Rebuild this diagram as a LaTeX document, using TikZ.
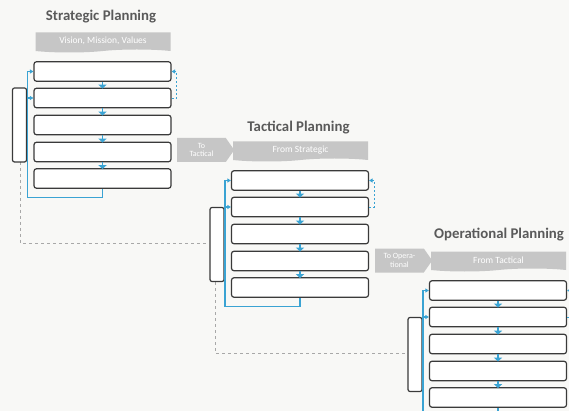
\documentclass[tikz,border=0pt]{standalone}
\usepackage{fontspec}
\setmainfont{Carlito}
\usetikzlibrary{shapes.symbols,arrows.meta}
\definecolor{bg}{HTML}{F8F8F6}
\definecolor{titlegray}{HTML}{5A5A5A}
\definecolor{boxline}{HTML}{3A3A3A}
\definecolor{bannergray}{HTML}{C6C6C6}
\definecolor{loopblue}{HTML}{3AA3D3}
\definecolor{dashgray}{HTML}{A8A8A8}
\tikzset{
  titletext/.style={font=\bfseries\fontsize{14.8}{16}\selectfont, text=titlegray, inner sep=0pt},
  bannerbox/.style={shape=tape, tape bend top=none, tape bend bottom=in and out, tape bend height=3pt,
    fill=bannergray, draw=none, minimum width=135pt, minimum height=20pt, inner sep=0pt,
    font=\fontsize{9.5}{10}\selectfont, text=white},
  planbox/.style={draw=boxline, line width=1.2pt, fill=white, rounded corners=2.5pt,
    minimum width=137pt, minimum height=19.5pt, inner sep=0pt},
  bracketbox/.style={draw=boxline, line width=1.2pt, fill=white, rounded corners=2pt,
    minimum width=14pt, minimum height=74pt, inner sep=0pt},
  toarrow/.style={shape=signal, signal to=east, signal pointer angle=110, fill=bannergray, draw=none,
    minimum width=57pt, minimum height=24pt, inner sep=1pt, align=center,
    font=\fontsize{8}{8.5}\selectfont, text=white},
  boxarrow/.style={draw=loopblue, line width=1.8pt, -{Triangle[width=8pt,length=4pt]}, shorten >=-1pt},
  blueline/.style={draw=loopblue, line width=1.1pt, -{Triangle[width=4pt,length=3.5pt]}},
  bluedash/.style={draw=loopblue, line width=0.9pt, dash pattern=on 2pt off 2pt, -{Triangle[width=4pt,length=3.5pt]}},
  greydash/.style={draw=dashgray, line width=0.8pt, dash pattern=on 3pt off 3pt},
}
\newcommand\PlanPanel[5]{%
  \begin{scope}[shift={(#2,#3)}]
    \node[bannerbox] (#1banner) at (0.5,-30.5) {#4};
    \node[planbox] (#1b1) at (0,0) {};
    \node[planbox] (#1b2) at (0,26.5) {};
    \node[planbox] (#1b3) at (0,53.5) {};
    \node[planbox] (#1b4) at (0,80.5) {};
    \node[planbox] (#1b5) at (0,107) {};
    \node[bracketbox] (#1br) at (-83,#5) {};
    \draw[boxarrow] (#1b1.south) -- (#1b2.north);
    \draw[boxarrow] (#1b2.south) -- (#1b3.north);
    \draw[boxarrow] (#1b3.south) -- (#1b4.north);
    \draw[boxarrow] (#1b4.south) -- (#1b5.north);
    \draw[blueline] (#1b5.south) |- (-75,126) |- (#1b1.west);
    \draw[blueline] (-75,26.5) -- (#1b2.west);
    \draw[bluedash] (#1b2.east) -- ++(5,0) |- (#1b1.east);
  \end{scope}}
\begin{document}
\begin{tikzpicture}[x=1pt,y=-1pt]
  \fill[bg] (0,0) rectangle (569,411);
  \useasboundingbox (0,0) rectangle (569,411);
  % titles
  \node[titletext] (stitle) at (101,17) {Strategic Planning};
  \node[titletext] (ttitle) at (298.5,128) {Tactical Planning};
  \node[titletext, anchor=west] (otitle) at (434,235) {Operational Planning};
  % grey dashed links (drawn first, under the boxes)
  \coordinate (sbrb) at (20.5,162);
  \coordinate (tbrb) at (215.5,282);
  \coordinate (tbrw) at (208.5,243.5);
  \coordinate (obrw) at (406.5,353.5);
  \draw[greydash] (sbrb) |- (tbrw);
  \draw[greydash] (tbrb) |- (obrw);
  % panels
  \PlanPanel{s}{102.5}{71.5}{Vision, Mission, Values}{53.5}
  \PlanPanel{t}{300}{180.5}{From Strategic}{64}
  \PlanPanel{o}{498}{290.5}{From Tactical}{64}
  % hand-over arrows
  \node[toarrow] (totact) at (201.5,150) {To\\Tactical};
  \node[toarrow] (toop) at (399.5,260.5) {To Opera-\\tional};
\end{tikzpicture}
\end{document}
